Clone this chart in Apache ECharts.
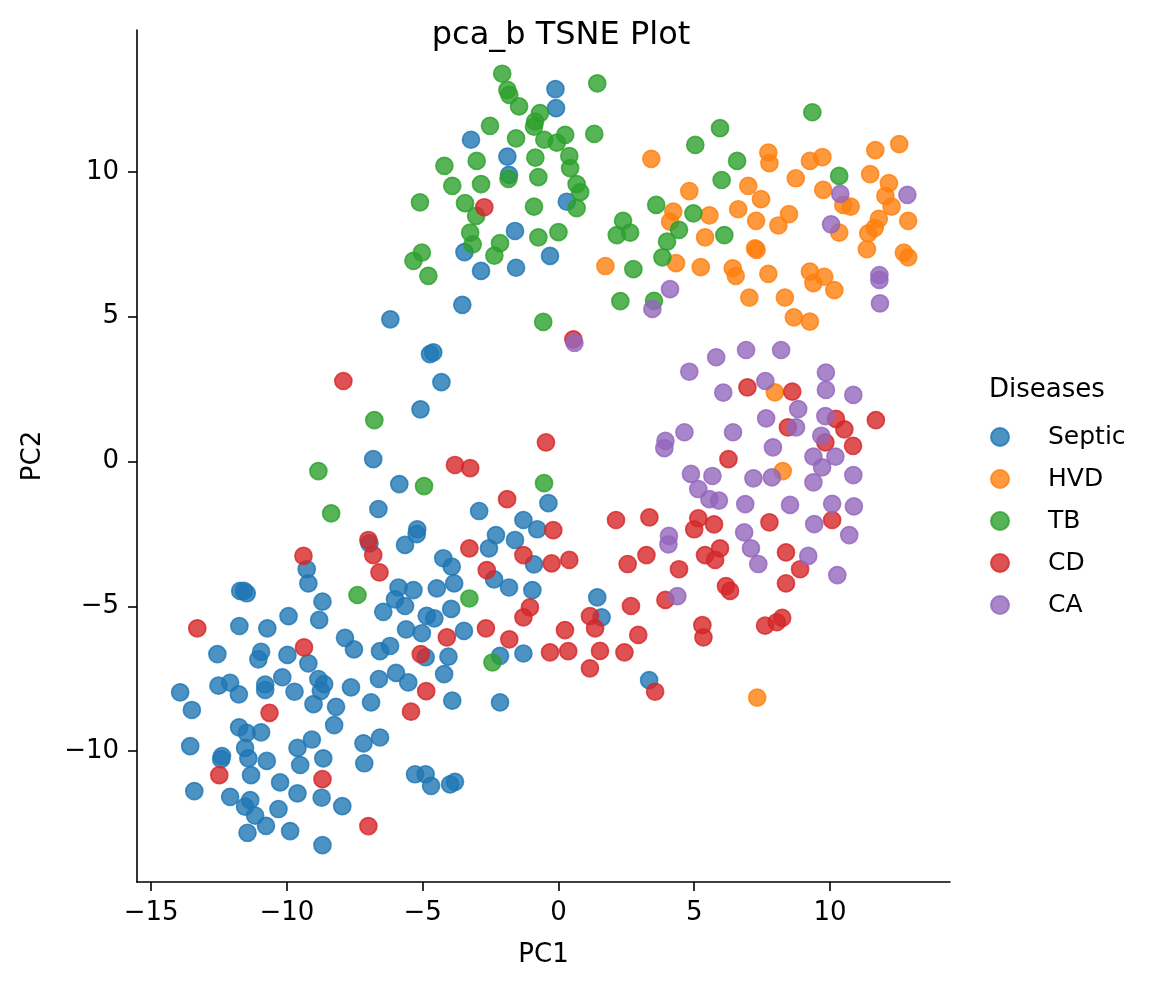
<!DOCTYPE html>
<html>
<head>
<meta charset="utf-8">
<script src="https://cdn.jsdelivr.net/npm/echarts@6/dist/echarts.min.js"></script>
<style>
html, body { margin: 0; padding: 0; background: #fff; }
#main { width: 1155px; height: 990px; }
</style>
</head>
<body>
<div id="main"></div>
<script>
var diseases = ['Septic', 'HVD', 'TB', 'CD', 'CA'];
var colors = ['31,119,180', '255,127,14', '44,160,44', '214,39,40', '148,103,189'];
var xTicks = [-15, -10, -5, 0, 5, 10];
var yTicks = [-10, -5, 0, 5, 10];

// [PC1, PC2] per disease
var septic = [
    [-0.11,12.86],[-0.09,12.20],[-3.22,11.11],[-1.88,10.53],[-1.82,9.90],[0.31,8.97],[-1.60,7.96],[-3.46,7.23],[-2.85,6.58],[-1.56,6.69],[-0.31,7.10],[-3.54,5.41],
    [-6.19,4.91],[-4.73,3.71],[-4.61,3.77],[-4.31,2.74],[-5.08,1.80],[-6.82,0.08],[-5.86,-0.78],[-0.37,-1.44],
    [-6.63,-1.64],[-2.92,-1.71],[-5.20,-2.34],[-5.22,-2.51],[-5.65,-2.88],[-6.96,-2.83],[-1.29,-2.02],[-0.78,-2.34],[-2.30,-2.54],[-2.56,-3.00],[-1.60,-2.71],[-4.24,-3.34],[-3.93,-3.63],[-0.90,-3.55],[-2.37,-4.07],[-1.82,-4.35],[-0.96,-4.44],[-9.27,-3.72],[-9.21,-4.21],[-5.89,-4.35],[-5.34,-4.44],[-4.48,-4.38],[-3.84,-4.21],[-6.02,-4.76],[-5.65,-4.99],[-8.69,-4.84],[-8.81,-5.47],[-6.45,-5.19],[-3.95,-5.09],[-4.85,-5.33],[-4.57,-5.42],[-5.61,-5.80],[-5.03,-5.93],[-3.48,-5.85],[-7.86,-6.09],[-7.53,-6.49],[-6.57,-6.55],[-6.20,-6.37],[-4.89,-6.76],[-4.05,-6.74],[-2.15,-6.71],[-1.29,-6.63],[-9.21,-6.97],[-8.84,-7.51],[-8.63,-7.69],[-8.75,-7.92],[-6.61,-7.51],[-5.98,-7.30],[-5.53,-7.63],[-4.21,-7.34],[-7.64,-7.80],[-9.02,-8.38],[-8.19,-8.47],[-6.90,-8.32],[-3.91,-8.26],[-2.15,-8.32],[-8.26,-9.10],
    [-11.58,-4.47],[-11.48,-4.55],[-11.72,-4.47],[-9.94,-5.34],[-11.75,-5.68],[-10.72,-5.76],[-12.56,-6.65],[-10.95,-6.57],[-11.05,-6.83],[-9.98,-6.68],[-10.17,-7.45],[-12.52,-7.74],[-12.09,-7.64],[-11.77,-8.04],[-10.80,-7.70],[-10.80,-7.89],[-9.72,-7.95],[-13.93,-7.97],[-13.50,-8.58],
    [-11.76,-9.18],[-11.48,-9.37],[-10.95,-9.35],[-9.08,-9.60],[-13.56,-9.83],[-11.54,-9.89],[-9.61,-9.89],[-12.39,-10.17],[-12.42,-10.28],[-11.42,-10.25],[-10.74,-10.34],[-9.51,-10.48],[-8.66,-10.25],[-11.32,-10.83],[-10.25,-11.08],[-13.41,-11.38],[-12.09,-11.58],[-11.35,-11.69],[-11.54,-11.92],[-9.61,-11.46],[-8.72,-11.61],[-11.17,-12.23],[-10.31,-12.00],[-10.77,-12.58],[-11.45,-12.82],[-9.88,-12.76],[-8.69,-13.25],
    [-7.18,-9.73],[-6.57,-9.53],[-7.15,-10.42],[-5.28,-10.80],[-4.89,-10.80],[-4.69,-11.20],[-3.99,-11.15],[-3.81,-11.06],[-7.96,-11.90],
    [1.43,-4.69],[1.59,-5.38],[3.34,-7.55]
];
var hvd = [
    [1.73,6.75],[3.42,10.45],[7.73,10.67],[7.77,10.30],[4.82,9.34],[6.99,9.52],[7.46,9.06],[6.62,8.71],[4.23,8.63],[5.56,8.50],[4.11,8.28],[7.28,8.31],[8.10,8.15],[8.49,8.54],[5.40,7.74],[7.24,7.36],[7.30,7.31],[4.33,6.85],[5.24,6.71],[6.42,6.67],[6.53,6.41],[7.73,6.48],[7.03,5.66],[8.34,5.66],[8.67,4.98],
    [9.26,10.38],[9.72,10.51],[11.67,10.75],[12.55,10.96],[8.74,9.78],[11.48,9.92],[12.17,9.61],[9.75,9.38],[12.04,9.17],[10.49,8.86],[10.76,8.80],[12.27,8.80],[11.80,8.38],[11.65,8.07],[11.41,7.88],[12.88,8.31],[10.34,7.90],[11.36,7.33],[12.72,7.21],[12.88,7.05],[9.26,6.56],[9.39,6.16],[9.79,6.38],[10.16,5.92],[9.26,4.83],
    [7.97,2.39],[8.26,-0.33],[7.32,-8.15]
];
var tb = [
    [-2.07,13.39],[-1.88,12.83],[-1.81,12.66],[-1.45,12.26],[1.43,13.06],[-0.68,12.03],[-0.86,11.74],[-0.90,11.56],[-2.52,11.59],[-1.56,11.16],[-0.52,11.11],[-0.06,11.01],[0.25,11.28],[1.32,11.31],[-3.01,10.38],[-4.20,10.21],[-0.85,10.49],[0.40,10.55],[0.43,10.13],[-0.74,9.82],[-1.84,9.76],[-2.85,9.58],[-3.91,9.52],[0.67,9.58],[0.80,9.30],[-5.10,8.95],[-3.44,8.92],[-3.03,8.48],[-0.90,8.80],[0.67,8.75],[-3.25,7.90],[-3.16,7.50],[-2.15,7.54],[-2.36,7.11],[-0.74,7.74],[0.00,7.92],[-5.03,7.21],[-5.34,6.93],[-4.79,6.41],[-0.56,4.82],
    [5.95,11.51],[5.04,10.93],[6.58,10.38],[6.01,9.72],[3.60,8.86],[4.97,8.57],[2.38,8.31],[2.15,7.82],[2.64,7.90],[4.44,8.00],[4.00,7.59],[3.83,7.05],[6.11,7.82],[2.76,6.64],[2.28,5.54],[3.52,5.55],[9.35,12.06],[10.34,9.86],
    [-6.78,1.43],[-8.84,-0.33],[-4.95,-0.85],[-0.53,-0.75],[-8.37,-1.79],[-7.40,-4.61],[-3.28,-4.73],[-2.43,-6.94]
];
var cd = [
    [-2.73,8.78],[0.55,4.22],[-7.92,2.78],[-0.46,0.66],[-3.81,-0.12],[-3.25,-0.23],[-1.89,-1.30],
    [6.96,2.56],[8.61,2.41],[10.22,1.47],[10.53,1.11],[11.69,1.43],[8.45,1.18],[9.83,0.66],[10.85,0.54],[6.26,0.08],
    [2.12,-2.02],[3.35,-1.93],[5.15,-1.96],[5.73,-2.17],[5.00,-2.34],[7.77,-2.10],[10.08,-2.02],[-0.19,-2.37],[0.40,-3.40],[2.55,-3.54],[3.24,-3.23],[4.44,-3.72],[5.40,-3.23],[5.95,-3.00],[5.77,-3.40],[8.38,-3.14],[8.90,-3.72],[8.38,-4.21],[6.17,-4.30],[6.32,-4.47],[3.94,-4.78],[2.67,-4.99],[1.16,-5.34],[1.35,-5.76],[0.24,-5.82],[2.94,-5.99],[5.30,-5.65],[5.34,-6.07],[7.61,-5.67],[8.04,-5.55],[8.24,-5.40],[0.36,-6.55],[1.53,-6.54],[2.43,-6.59],[1.16,-7.14],[3.56,-7.95],
    [-7.00,-2.71],[-6.82,-3.23],[-6.59,-3.83],[-9.39,-3.26],[-3.28,-3.00],[-1.29,-3.23],[-0.25,-3.52],[-2.64,-3.75],[-1.05,-5.04],[-1.29,-5.38],[-2.67,-5.76],[-1.81,-6.14],[-4.11,-6.07],[-9.37,-6.42],[-5.07,-6.65],[-0.31,-6.59],[-4.87,-7.93],[-5.43,-8.64],
    [-13.30,-5.76],[-10.64,-8.68],[-12.49,-10.83],[-8.69,-10.97],[-7.00,-12.59]
];
var ca = [
    [4.11,5.95],[3.46,5.27],[10.38,9.24],[12.85,9.21],[10.04,8.19],[11.82,6.44],[11.82,6.27],[11.84,5.46],[0.59,4.10],
    [6.91,3.85],[8.20,3.85],[5.81,3.60],[4.82,3.10],[9.85,3.07],[7.62,2.78],[9.85,2.47],[10.86,2.30],[6.07,2.38],[8.83,1.81],[7.65,1.49],[9.83,1.57],[8.75,1.18],[9.68,0.89],[6.43,1.01],[4.64,1.01],[3.94,0.71],[3.90,0.46],[7.90,0.49],[9.39,0.17],[10.20,0.17],[9.71,-0.20],[10.86,-0.47],[4.88,-0.43],[5.67,-0.50],[7.18,-0.58],[7.86,-0.55],[9.39,-0.72],[5.15,-0.95],[5.56,-1.30],[5.91,-1.35],[6.88,-1.47],[8.53,-1.50],[10.08,-1.46],[10.88,-1.55],
    [4.07,-2.57],[4.05,-2.86],[6.84,-2.45],[7.09,-3.00],[7.36,-3.54],[9.42,-2.16],[10.71,-2.54],[9.20,-3.26],[10.27,-3.92],[4.38,-4.65]
];
var allData = [septic, hvd, tb, cd, ca];

var dom = document.getElementById("main");
var myChart = echarts.init(dom);
var font = 'DejaVu Sans';

function tickFmt(v) {
    return v < 0 ? '\u2212' + Math.abs(v) : String(v);
}

var series = diseases.map(function (name, i) {
    return {
        name: name,
        type: 'scatter',
        data: allData[i],
        symbol: 'circle',
        symbolSize: 17,
        itemStyle: {
            color: 'rgba(' + colors[i] + ',0.8)',
            borderColor: 'rgba(' + colors[i] + ',0.8)',
            borderWidth: 1.7,
            opacity: 1
        },
        emphasis: { disabled: true }
    };
});

var option = {
    animation: false,
    textStyle: { fontFamily: font },
    title: [{
        text: 'pca_b TSNE Plot',
        left: 556,
        top: 15,
        textAlign: 'center',
        textStyle: { fontFamily: font, fontSize: 32, fontWeight: 'normal', color: '#000' }
    }, {
        text: 'Diseases',
        left: 984,
        top: 372,
        textStyle: { fontFamily: font, fontSize: 26, fontWeight: 'normal', color: '#000' }
    }],
    legend: {
        orient: 'vertical',
        left: 985,
        top: 419,
        icon: 'circle',
        itemWidth: 18,
        itemHeight: 18,
        itemGap: 16,
        data: diseases,
        textStyle: {
            fontFamily: font,
            fontSize: 25,
            lineHeight: 26,
            color: '#000',
            padding: [0, 0, 0, 34]
        }
    },
    grid: {
        left: 137,
        right: 205,
        top: 30,
        bottom: 108,
        containLabel: false
    },
    xAxis: {
        type: 'value',
        min: -15.52,
        max: 14.42,
        name: 'PC1',
        nameLocation: 'middle',
        nameGap: 60,
        nameTextStyle: { fontFamily: font, fontSize: 26, color: '#000' },
        axisLine: { show: true, onZero: false, lineStyle: { color: '#000', width: 1.6 } },
        axisTick: { show: true, length: 9, lineStyle: { color: '#000', width: 1.6 }, customValues: xTicks },
        axisLabel: { show: true, margin: 18, fontFamily: font, fontSize: 26, color: '#000', customValues: xTicks, formatter: tickFmt },
        splitLine: { show: false }
    },
    yAxis: {
        type: 'value',
        min: -14.52,
        max: 14.9,
        name: 'PC2',
        nameLocation: 'middle',
        nameGap: 91,
        nameTextStyle: { fontFamily: font, fontSize: 26, color: '#000' },
        axisLine: { show: true, onZero: false, lineStyle: { color: '#000', width: 1.6 } },
        axisTick: { show: true, length: 9, lineStyle: { color: '#000', width: 1.6 }, customValues: yTicks },
        axisLabel: { show: true, margin: 18, fontFamily: font, fontSize: 26, color: '#000', customValues: yTicks, formatter: tickFmt },
        splitLine: { show: false }
    },
    series: series
};

if (option && typeof option === "object") {
    myChart.setOption(option, true);
}
window.addEventListener("resize", function () {
    myChart.resize();
});
</script>
</body>
</html>
